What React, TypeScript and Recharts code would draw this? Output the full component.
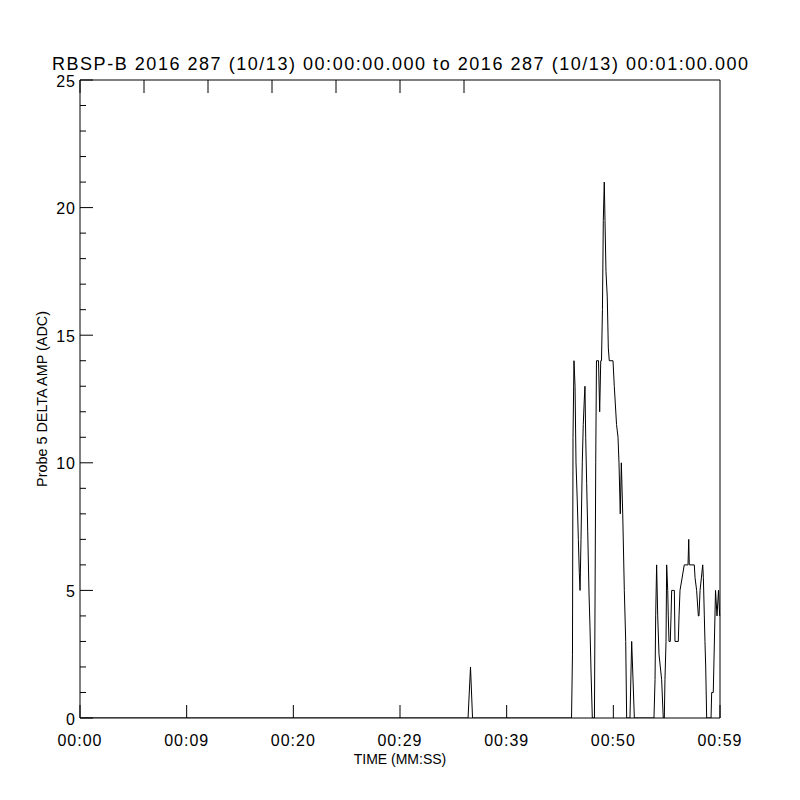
import { LineChart, Line, XAxis, YAxis } from "recharts"

// times in seconds since 00:00:00 at its turning points
const tiempos = [
  0, 36.38, 36.61, 36.8, 46.08, 46.17, 46.22, 46.31, 46.41, 46.5, 46.62, 46.72, 46.81, 46.88,
  46.97, 47.09, 47.18, 47.28, 47.34, 47.41, 47.5, 47.6, 47.72, 47.81, 47.91, 48.03, 48.23,
  48.35, 48.42, 48.61, 48.72, 48.82, 48.89, 48.98, 49.06, 49.15, 49.22, 49.31, 49.43, 49.53,
  49.62, 49.97, 50.09, 50.3, 50.44, 50.53, 50.65, 50.75, 50.88, 51.03, 51.16, 51.25, 51.56,
  51.72, 51.97, 53.81, 53.91, 53.97, 54.06, 54.16, 54.28, 54.53, 54.68, 54.78, 54.84, 54.94,
  55.0, 55.1, 55.15, 55.22, 55.34, 55.41, 55.47, 55.72, 55.78, 56.09, 56.16, 56.25, 56.65,
  57.0, 57.07, 57.12, 57.59, 57.66, 57.81, 57.97, 58.03, 58.13, 58.38, 58.44, 58.53, 58.59,
  58.66, 58.75, 59.16, 59.22, 59.37, 59.58, 59.72, 59.86, 59.97,
]

const amplitudes = [
  0, 0, 2, 0, 0, 2.5, 11, 14, 13, 10, 8.5, 7, 5.7, 5,
  7, 10, 11.5, 12.5, 13, 11, 9.2, 7.3, 4.9, 3.6, 1.8, 0, 0,
  10, 14, 14, 12, 14, 14, 16, 19.5, 21, 19.5, 17.5, 16.5, 14.5,
  14, 14, 13, 11.5, 11, 10, 8, 10, 8, 5, 3, 0, 0,
  3, 0, 0, 1.5, 4, 6, 4, 2.5, 1.5, 0, 0, 1.5, 3,
  6, 5, 4, 3, 3, 4, 5, 5, 3, 3, 4, 5, 6,
  6, 7, 6, 6, 5.5, 5, 4, 4, 5, 6, 5.5, 4, 3,
  2, 0, 0, 1, 1, 5, 4, 5, 4,
]

const ticksX = [0, 10, 20, 30, 40, 50, 60]
const etiquetasX = ["00:00", "00:09", "00:20", "00:29", "00:39", "00:50", "00:59"]
// all y ticks; every fifth one is a major tick with a label
const ticksY = [
  0, 1, 2, 3, 4, 5, 6, 7, 8, 9, 10, 11, 12, 13, 14, 15, 16, 17, 18, 19, 20, 21, 22, 23, 24, 25,
]

const titulo = "RBSP-B 2016 287 (10/13) 00:00:00.000 to 2016 287 (10/13) 00:01:00.000"

const fuente = "'Liberation Sans', Arial, sans-serif"

const esMayor = (v: number) => v % 5 === 0

function TickIzq({ x, y, payload }: any) {
  const mayor = esMayor(payload.value)
  return (
    <g>
      <line x1={x} y1={y} x2={x + (mayor ? 13 : 6)} y2={y} stroke="#000" />
      {mayor && (
        <text x={x - 4} y={y + 1} textAnchor="end" dominantBaseline="central" fontSize={16} fontFamily={fuente} letterSpacing={1} fill="#000">
          {payload.value}
        </text>
      )}
    </g>
  )
}

function TickDer({ x, y, payload }: any) {
  const mayor = esMayor(payload.value)
  return <line x1={x} y1={y} x2={x - (mayor ? 13 : 6)} y2={y} stroke="#000" />
}

function TickAbajo({ x, y, payload }: any) {
  return (
    <g>
      <line x1={x} y1={y} x2={x} y2={y - 13} stroke="#000" />
      <text x={x} y={y + 28} textAnchor="middle" fontSize={16} fontFamily={fuente} letterSpacing={1} fill="#000">
        {etiquetasX[ticksX.indexOf(payload.value)] ?? ""}
      </text>
    </g>
  )
}

function TickArriba({ x, y }: any) {
  return <line x1={x} y1={y} x2={x} y2={y + 13} stroke="#000" />
}

export default function App() {
  const datos = tiempos.map((t, i) => ({ t, amp: amplitudes[i] }))
  const linea = { stroke: "#000" }

  return (
    <div style={{ position: "absolute", left: 0, top: 0, width: 800, height: 800, background: "#fff" }}>
      <LineChart width={800} height={800} data={datos} margin={{ top: 70, right: 70, left: 50, bottom: 52 }}>
        <XAxis
          xAxisId="abajo"
          dataKey="t"
          type="number"
          domain={[0, 60]}
          ticks={ticksX}
          interval={0}
          height={30}
          tickSize={0}
          tickMargin={0}
          tick={<TickAbajo />}
          tickLine={false}
          axisLine={linea}
          label={{
            content: (p: any) => (
              <text
                x={p.viewBox.x + p.viewBox.width / 2}
                y={p.viewBox.y + 46}
                textAnchor="middle"
                fontSize={14}
                fontFamily={fuente}
                fill="#000"
              >
                TIME (MM:SS)
              </text>
            ),
          }}
        />
        <XAxis
          xAxisId="arriba"
          orientation="top"
          type="number"
          domain={[0, 60]}
          ticks={ticksX}
          interval={0}
          height={10}
          tickSize={0}
          tickMargin={0}
          tick={<TickArriba />}
          tickLine={false}
          axisLine={linea}
          label={{
            content: (p: any) => (
              <text
                x={p.viewBox.x + p.viewBox.width / 2}
                y={p.viewBox.y + p.viewBox.height - 10}
                textAnchor="middle"
                fontSize={18}
                fontFamily={fuente}
                fill="#000"
                textLength={696}
                lengthAdjust="spacing"
              >
                {titulo}
              </text>
            ),
          }}
        />
        <YAxis
          yAxisId="izq"
          type="number"
          domain={[0, 25]}
          ticks={ticksY}
          interval={0}
          width={30}
          tickSize={0}
          tickMargin={0}
          tick={<TickIzq />}
          tickLine={false}
          axisLine={linea}
          allowDataOverflow
          label={{
            content: (p: any) => {
              const cx = p.viewBox.x + p.viewBox.width - 38
              const cy = p.viewBox.y + p.viewBox.height / 2
              return (
                <text
                  x={cx}
                  y={cy}
                  transform={`rotate(-90 ${cx} ${cy})`}
                  textAnchor="middle"
                  dominantBaseline="central"
                  fontSize={14.4}
                  fontFamily={fuente}
                  fill="#000"
                >
                  Probe 5 DELTA AMP (ADC)
                </text>
              )
            },
          }}
        />
        <YAxis
          yAxisId="der"
          orientation="right"
          type="number"
          domain={[0, 25]}
          ticks={ticksY}
          interval={0}
          width={10}
          tickSize={0}
          tickMargin={0}
          tick={<TickDer />}
          tickLine={false}
          axisLine={linea}
        />
        <Line
          xAxisId="abajo"
          yAxisId="izq"
          type="linear"
          dataKey="amp"
          stroke="#000"
          strokeWidth={1}
          dot={false}
          isAnimationActive={false}
        />
      </LineChart>
    </div>
  )
}
